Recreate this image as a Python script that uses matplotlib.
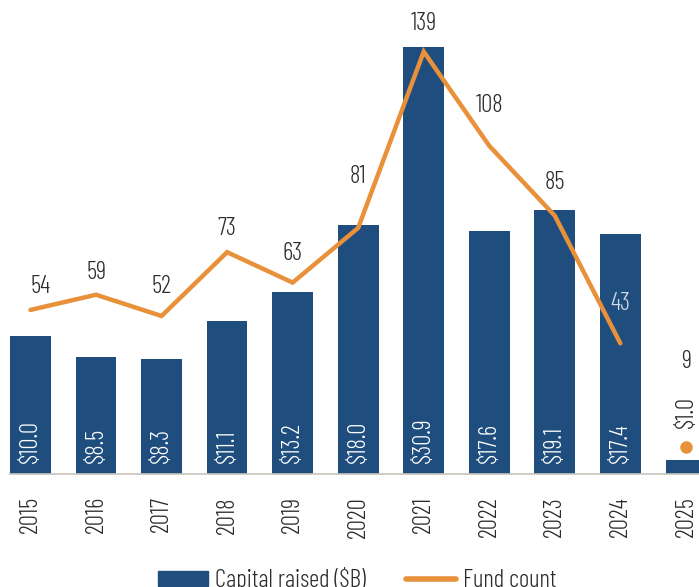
import matplotlib.pyplot as plt
from matplotlib.patches import Patch
from matplotlib.lines import Line2D

plt.rcParams['font.family'] = ['Barlow Condensed', 'DejaVu Sans']
plt.rcParams['font.weight'] = 300

years = ['2015', '2016', '2017', '2018', '2019', '2020', '2021', '2022', '2023', '2024', '2025']
capital = [10.0, 8.5, 8.3, 11.1, 13.2, 18.0, 30.9, 17.6, 19.1, 17.4, 1.0]
fund_count = [54, 59, 52, 73, 63, 81, 139, 108, 85, 43, 9]

# label offsets above each line point (points)
count_offsets = [17, 16, 21, 17, 21, 37, 20, 29, 24, 29, 61]

bar_color = '#1f4e7e'
line_color = '#e8913a'
text_color = '#2b2b2b'

fig = plt.figure(figsize=(6.99, 5.87), dpi=100)
ax = fig.add_axes([0, 0.1925, 1, 0.8075])
x = list(range(len(years)))

ax.bar(x, capital, width=0.62, color=bar_color, zorder=2)
ax.set_xlim(-0.465, 10.2)
ax.set_ylim(0, 34.3)

for i, v in enumerate(capital):
    if i == len(capital) - 1:
        ax.annotate(f'${v:.1f}', (i, v), xytext=(0, 23), textcoords='offset points',
                    rotation=90, ha='center', va='bottom', fontsize=18, color=text_color)
    else:
        ax.annotate(f'${v:.1f}', (i, 0), xytext=(0, 8), textcoords='offset points',
                    rotation=90, ha='center', va='bottom', fontsize=18, color='white', zorder=3)

ax.set_xticks(x)
ax.set_xticklabels(years, rotation=90, fontsize=18, color=text_color)
ax.tick_params(axis='x', length=0, pad=16)
ax.set_yticks([])
for s in ['top', 'left', 'right']:
    ax.spines[s].set_visible(False)
ax.spines['bottom'].set_color('#c8c4bc')
ax.spines['bottom'].set_linewidth(1.2)
ax.spines['bottom'].set_bounds(-0.31, 10.2)

ax2 = ax.twinx()
ax2.plot(x[:-1], fund_count[:-1], color=line_color, linewidth=3.2,
         solid_capstyle='round', solid_joinstyle='miter')
ax2.plot(x[-1], fund_count[-1], 'o', color=line_color, markersize=8)
ax2.set_ylim(0, 156)
ax2.set_yticks([])
for s in ax2.spines.values():
    s.set_visible(False)

for i, v in enumerate(fund_count):
    c = '#d3dbe7' if i == 9 else text_color
    dx = 7 if i == 0 else 0
    ax2.annotate(str(v), (i, v), xytext=(dx, count_offsets[i]), textcoords='offset points',
                 ha='center', va='center', fontsize=18, color=c)

handles = [Patch(color=bar_color, label='Capital raised ($B)'),
           Line2D([0], [0], color=line_color, linewidth=4, solid_capstyle='round', label='Fund count')]
fig.legend(handles=handles, loc='center', bbox_to_anchor=(0.511, 0.012), ncol=2,
           frameon=False, fontsize=18, handlelength=2.0, handleheight=0.5,
           columnspacing=1.6, handletextpad=0.3, labelcolor=text_color)

fig.savefig('out.png', dpi=100)
